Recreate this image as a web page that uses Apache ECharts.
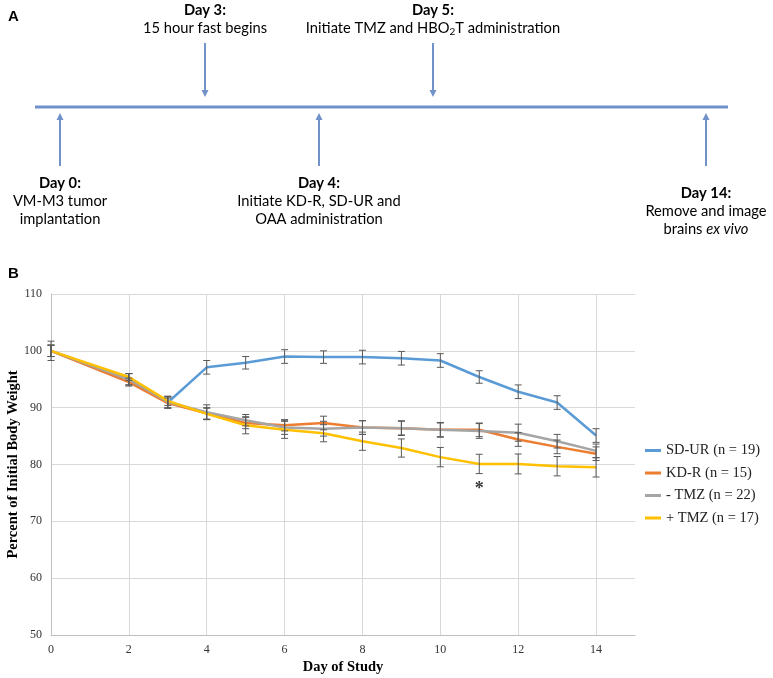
<!DOCTYPE html>
<html>
<head>
<meta charset="utf-8">
<script src="https://cdn.jsdelivr.net/npm/echarts@6/dist/echarts.min.js"></script>
<style>
html,body{margin:0;padding:0;background:#fff;}
#chart{width:773px;height:678px;}
</style>
</head>
<body>
<div id="chart"></div>
<script>
// ---------- Data ----------
const days = [0, 2, 3, 4, 5, 6, 7, 8, 9, 10, 11, 12, 13, 14];
const seriesNames = ['SD-UR (n = 19)', 'KD-R (n = 15)', '- TMZ (n = 22)', '+ TMZ (n = 17)'];
const sdur      = [100, 95.0, 90.9, 97.1, 97.9, 99.0, 98.9, 98.9, 98.7, 98.3, 95.4, 92.8, 90.9, 85.1];
const sdurErr   = [1.7, 1.0, 1.0, 1.2, 1.1, 1.2, 1.1, 1.2, 1.2, 1.2, 1.1, 1.2, 1.2, 1.2];
const kdr       = [100, 94.5, 90.8, 89.0, 87.3, 86.9, 87.3, 86.5, 86.4, 86.1, 86.1, 84.4, 83.1, 81.9];
const kdrErr    = [1.0, 0.7, 0.9, 1.0, 1.0, 1.0, 1.2, 1.2, 1.2, 1.2, 1.2, 1.2, 1.2, 1.2];
const tmzMinus  = [100, 95.0, 91.0, 89.2, 87.8, 86.5, 86.3, 86.5, 86.4, 86.1, 85.9, 85.6, 84.1, 82.4];
const tmzMinusErr = [1.0, 1.0, 1.0, 1.3, 1.0, 1.2, 1.3, 1.2, 1.3, 1.3, 1.3, 1.5, 1.2, 1.2];
const tmzPlus   = [100, 95.4, 91.2, 88.9, 86.9, 86.1, 85.5, 84.1, 82.9, 81.3, 80.1, 80.1, 79.7, 79.5];
const tmzPlusErr = [1.0, 0.6, 0.8, 1.0, 1.5, 1.5, 1.5, 1.6, 1.6, 1.7, 1.7, 1.75, 1.7, 1.7];
const sigDay = [11];
const sigValue = [75.6];

// Timeline (panel A) — rich-text lines
const eventDays = ['Day 0:', 'Day 3:', 'Day 4:', 'Day 5:', 'Day 14:'];
const eventText = [
  ['{n|VM-M3 tumor}', '{n|implantation}'],
  ['{n|15 hour fast begins}'],
  ['{n|Initiate KD-R, SD-UR and}', '{n|OAA administration}'],
  ['{n|Initiate TMZ and HBO}{s|2}{n|T administration}'],
  ['{n|Remove and image}', '{n|brains }{i|ex vivo}']
];
const eventDir = ['up', 'down', 'up', 'down', 'up'];

// ---------- Layout / style ----------
const colors = ['#5b9bd5', '#ed7d31', '#a5a5a5', '#ffc000'];
const eventX = [60, 205, 319, 433, 706];
const eventTextTop = [174, 1, 174, 1, 184];
const tlColor = '#7191c9';
const tlY = 107;
const fA = '14.7px Lato';

const graphics = [];
graphics.push({type:'text', left:8, top:9, style:{text:'A', font:'bold 15px "Liberation Sans", Arial', fill:'#000'}});
graphics.push({type:'text', left:8, top:266, style:{text:'B', font:'bold 15px "Liberation Sans", Arial', fill:'#000'}});
graphics.push({type:'line', shape:{x1:35, y1:tlY, x2:728, y2:tlY}, style:{stroke:tlColor, lineWidth:3}});
eventDays.forEach((d, i) => {
  const x = eventX[i];
  let y1, y2, tip;
  if (eventDir[i] === 'down') { y1 = 43; y2 = 97; tip = [[x-3.5, y2-7],[x+3.5, y2-7],[x, y2]]; }
  else { y1 = 166; y2 = 113; tip = [[x-3.5, y2+7],[x+3.5, y2+7],[x, y2]]; }
  graphics.push({type:'line', shape:{x1:x, y1:y1, x2:x, y2:(eventDir[i]==='down'? y2-5 : y2+5)}, style:{stroke:tlColor, lineWidth:2}});
  graphics.push({type:'polygon', shape:{points:tip}, style:{fill:tlColor}});
  graphics.push({
    type:'text', x:x, y:eventTextTop[i],
    style:{
      text:'{b|' + d + '}\n' + eventText[i].join('\n'),
      align:'center', verticalAlign:'top',
      fill:'#000',
      rich:{
        b:{font:'bold ' + fA, lineHeight:18, fill:'#000'},
        n:{font:fA, lineHeight:18, fill:'#000'},
        i:{font:'italic ' + fA, lineHeight:18, fill:'#000'},
        s:{font:'10px Lato', lineHeight:18, verticalAlign:'bottom', fill:'#000'}
      }
    }
  });
});

function lineSeries(name, vals, color) {
  return {
    type:'line', name:name, data:days.map((d,i)=>[d, vals[i]]),
    symbol:'none', lineStyle:{width:2.5, color:color}, itemStyle:{color:color}, z:2
  };
}
function errSeries(name, vals, errs) {
  return {
    type:'custom', name:name + ' error',
    data:days.map((d,i)=>[d, vals[i]-errs[i], vals[i]+errs[i]]),
    encode:{x:0, y:[1,2]},
    z:3,
    renderItem:(params, api) => {
      const x = api.value(0);
      const lo = api.coord([x, api.value(1)]);
      const hi = api.coord([x, api.value(2)]);
      const w = 3.5;
      const st = {stroke:'#595959', lineWidth:1};
      return {type:'group', children:[
        {type:'line', shape:{x1:lo[0], y1:lo[1], x2:hi[0], y2:hi[1]}, style:st},
        {type:'line', shape:{x1:lo[0]-w, y1:lo[1], x2:lo[0]+w, y2:lo[1]}, style:st},
        {type:'line', shape:{x1:hi[0]-w, y1:hi[1], x2:hi[0]+w, y2:hi[1]}, style:st}
      ]};
    }
  };
}

const valueSets = [sdur, kdr, tmzMinus, tmzPlus];
const errSets = [sdurErr, kdrErr, tmzMinusErr, tmzPlusErr];
const series = [];
valueSets.forEach((v,i) => series.push(lineSeries(seriesNames[i], v, colors[i])));
valueSets.forEach((v,i) => series.push(errSeries(seriesNames[i], v, errSets[i])));
series.push({
  type:'scatter', name:'sig', data:sigDay.map((d,i)=>[d, sigValue[i]]),
  symbolSize:0, z:4, silent:true,
  label:{show:true, formatter:'*', position:'inside', fontFamily:'Liberation Serif', fontWeight:'bold', fontSize:18, color:'#000'}
});

const chart = echarts.init(document.getElementById('chart'), null, {renderer:'canvas'});
chart.setOption({
  animation:false,
  backgroundColor:'#fff',
  grid:{left:51, right:138, top:294, bottom:43, containLabel:false, outerBoundsMode:'none'},
  legend:{
    data:seriesNames, orient:'vertical', left:640, top:438,
    icon:'rect', itemWidth:16, itemHeight:3, itemGap:7.5,
    textStyle:{fontFamily:'Liberation Serif', fontSize:14.5, color:'#222', lineHeight:15}
  },
  xAxis:{
    type:'value', min:0, max:15, interval:2,
    name:'Day of Study', nameLocation:'middle', nameGap:25, nameMoveOverlap:false,
    nameTextStyle:{fontFamily:'Liberation Serif', fontWeight:'bold', fontSize:14.5, color:'#000'},
    axisLine:{show:true, lineStyle:{color:'#bfbfbf', width:1}},
    axisTick:{show:false},
    axisLabel:{fontFamily:'Liberation Serif', fontSize:12, color:'#333', margin:9, showMaxLabel:false},
    splitLine:{show:true, showMaxLine:false, lineStyle:{color:'#d9d9d9', width:1}}
  },
  yAxis:{
    type:'value', min:50, max:110, interval:10,
    name:'Percent of Initial Body Weight', nameLocation:'middle', nameGap:30, nameMoveOverlap:false,
    nameTextStyle:{fontFamily:'Liberation Serif', fontWeight:'bold', fontSize:14.5, color:'#000'},
    axisLine:{show:true, lineStyle:{color:'#bfbfbf', width:1}},
    axisTick:{show:false},
    axisLabel:{fontFamily:'Liberation Serif', fontSize:12, color:'#333', margin:9},
    splitLine:{show:true, lineStyle:{color:'#d9d9d9', width:1}}
  },
  graphic:graphics,
  series:series
});
</script>
</body>
</html>
